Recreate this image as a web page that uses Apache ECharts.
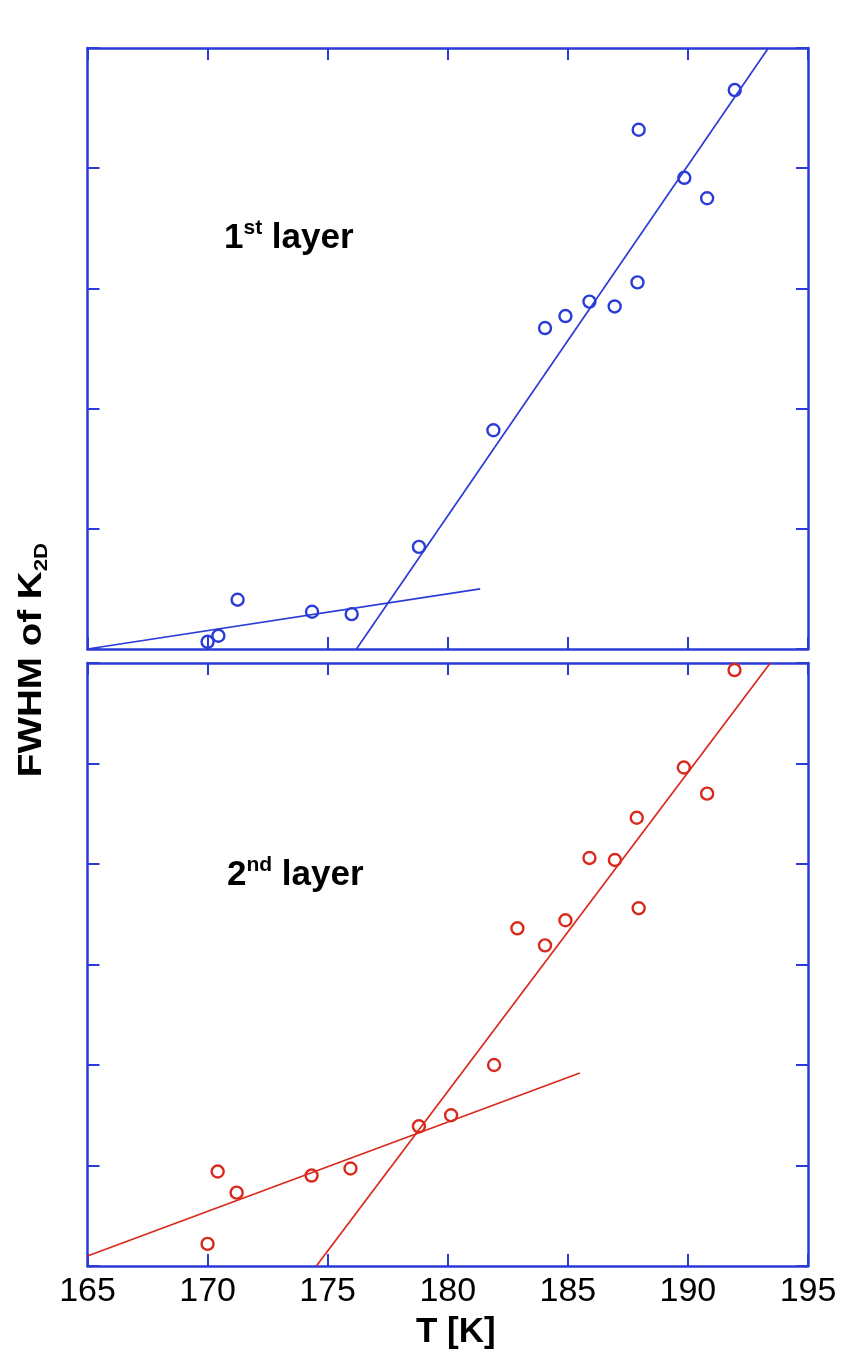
<!DOCTYPE html>
<html>
<head>
<meta charset="utf-8">
<script src="https://cdn.jsdelivr.net/npm/echarts@6/dist/echarts.min.js"></script>
<style>
html,body{margin:0;padding:0;background:#fff;}
#chart{width:846px;height:1356px;}
</style>
</head>
<body>
<div id="chart"></div>
<script>
// ---- data ----
var xTicks = [165, 170, 175, 180, 185, 190, 195];

var layer1T = [170.0, 170.45, 171.25, 174.35, 176.0, 178.8, 181.9, 184.05, 184.9, 185.9, 186.95, 187.9, 187.95, 189.85, 190.8, 191.95];
var layer1W = [0.06, 0.11, 0.41, 0.31, 0.29, 0.85, 1.82, 2.67, 2.77, 2.89, 2.85, 3.05, 4.32, 3.92, 3.75, 4.65];
var layer1FitLowT = [165, 181.35];
var layer1FitLowW = [0.0, 0.50];
var layer1FitHighT = [176.2, 193.35];
var layer1FitHighW = [0.0, 5.0];

var layer2T = [170.0, 170.42, 171.21, 174.33, 175.95, 178.8, 180.14, 181.93, 182.9, 184.05, 184.9, 185.9, 186.96, 187.87, 187.95, 189.83, 190.8, 191.94];
var layer2W = [0.22, 0.94, 0.73, 0.90, 0.97, 1.39, 1.50, 2.00, 3.36, 3.19, 3.44, 4.06, 4.04, 4.46, 3.56, 4.96, 4.70, 5.93];
var layer2FitLowT = [165, 185.5];
var layer2FitLowW = [0.10, 1.92];
var layer2FitHighT = [174.53, 193.43];
var layer2FitHighW = [0.0, 6.0];

// ---- styling ----
var BLUE = '#2b3bd8';
var RED = '#d9291c';
var FONT = "'Liberation Sans', Arial, Helvetica, sans-serif";

function zip(a, b) { return a.map(function (v, i) { return [v, b[i]]; }); }

function xAx(grid, pos, labels) {
  return {
    type: 'value', gridIndex: grid, position: pos,
    min: xTicks[0], max: xTicks[xTicks.length - 1], interval: 5,
    axisLine: { show: true, onZero: false, lineStyle: { color: BLUE, width: 2.5 } },
    axisTick: { show: true, inside: true, length: 12, lineStyle: { color: BLUE, width: 2 } },
    axisLabel: labels ? { show: true, color: '#000', fontSize: 34, fontFamily: FONT, margin: 9 } : { show: false },
    splitLine: { show: false }
  };
}
function yAx(grid, pos, max) {
  return {
    type: 'value', gridIndex: grid, position: pos,
    min: 0, max: max, interval: 1,
    axisLine: { show: true, onZero: false, lineStyle: { color: BLUE, width: 2.5 } },
    axisTick: { show: true, inside: true, length: 12, lineStyle: { color: BLUE, width: 2 } },
    axisLabel: { show: false },
    splitLine: { show: false }
  };
}
function scatter(xi, yi, t, w, color) {
  return {
    type: 'scatter', xAxisIndex: xi, yAxisIndex: yi,
    data: zip(t, w), symbol: 'circle', symbolSize: 12,
    itemStyle: { color: 'rgba(255,255,255,0)', borderColor: color, borderWidth: 2.4, opacity: 1 },
    z: 3, silent: true
  };
}
function fit(xi, yi, t, w, color) {
  return {
    type: 'line', xAxisIndex: xi, yAxisIndex: yi,
    data: zip(t, w), showSymbol: false, symbol: 'none',
    lineStyle: { color: color, width: 1.7 }, clip: true, z: 2, silent: true
  };
}

var chart = echarts.init(document.getElementById('chart'), null, { renderer: 'canvas' });
chart.setOption({
  animation: false,
  backgroundColor: '#fff',
  grid: [
    { left: 87.5, top: 48, width: 720.5, height: 601 },
    { left: 87.5, top: 663, width: 720.5, height: 603 }
  ],
  xAxis: [xAx(0, 'bottom', false), xAx(0, 'top', false), xAx(1, 'bottom', true), xAx(1, 'top', false)],
  yAxis: [yAx(0, 'left', 5), yAx(0, 'right', 5), yAx(1, 'left', 6), yAx(1, 'right', 6)],
  series: [
    fit(0, 0, layer1FitLowT, layer1FitLowW, BLUE),
    fit(0, 0, layer1FitHighT, layer1FitHighW, BLUE),
    scatter(0, 0, layer1T, layer1W, BLUE),
    fit(2, 2, layer2FitLowT, layer2FitLowW, RED),
    fit(2, 2, layer2FitHighT, layer2FitHighW, RED),
    scatter(2, 2, layer2T, layer2W, RED)
  ],
  graphic: [
    {
      type: 'text', left: 224, top: 218, silent: true,
      style: {
        text: '{a|1}{b|st}{a| layer}',
        rich: {
          a: { fontSize: 35, fontWeight: 'bold', fontFamily: FONT, fill: '#000', lineHeight: 40, verticalAlign: 'middle' },
          b: { fontSize: 21, fontWeight: 'bold', fontFamily: FONT, fill: '#000', lineHeight: 21, verticalAlign: 'top' }
        }
      }
    },
    {
      type: 'text', left: 227, top: 855, silent: true,
      style: {
        text: '{a|2}{b|nd}{a| layer}',
        rich: {
          a: { fontSize: 35, fontWeight: 'bold', fontFamily: FONT, fill: '#000', lineHeight: 40, verticalAlign: 'middle' },
          b: { fontSize: 21, fontWeight: 'bold', fontFamily: FONT, fill: '#000', lineHeight: 21, verticalAlign: 'top' }
        }
      }
    },
    {
      type: 'text', x: 32, y: 660, rotation: Math.PI / 2, scaleX: 1.17, silent: true,
      style: {
        text: '{a|FWHM of K}{b|2D}',
        align: 'center', verticalAlign: 'middle',
        rich: {
          a: { fontSize: 33, fontWeight: 'bold', fontFamily: FONT, fill: '#000', lineHeight: 38, verticalAlign: 'middle' },
          b: { fontSize: 19, fontWeight: 'bold', fontFamily: FONT, fill: '#000', lineHeight: 10, verticalAlign: 'bottom' }
        }
      }
    },
    {
      type: 'text', left: 416, top: 1315, silent: true,
      style: { text: 'T [K]', fontSize: 35, fontWeight: 'bold', fontFamily: FONT, fill: '#000' }
    }
  ]
});
</script>
</body>
</html>
